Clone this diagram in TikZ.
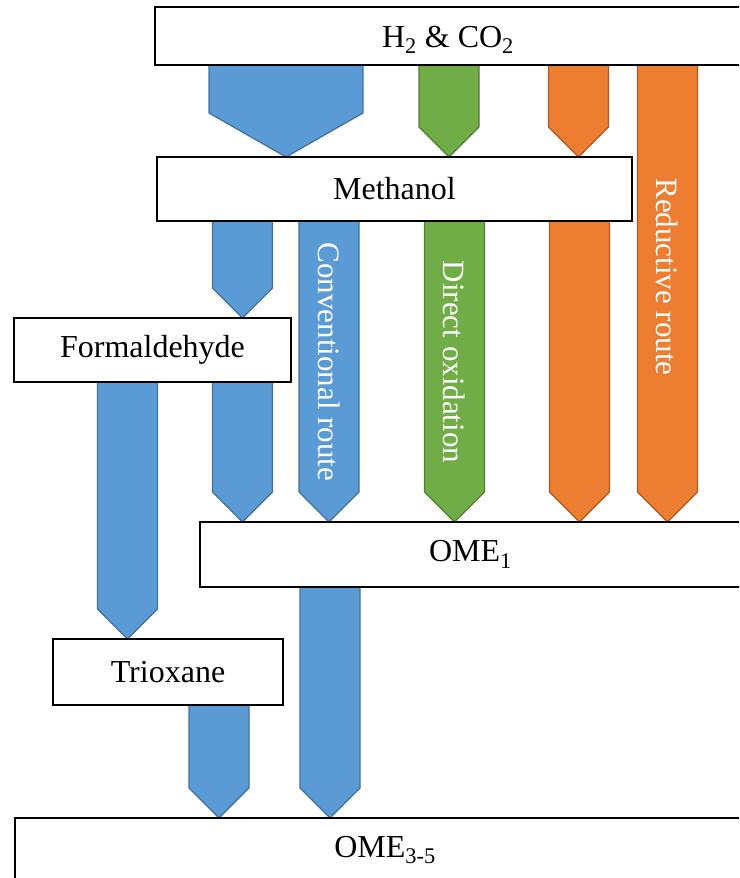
\documentclass[tikz,border=0pt]{standalone}
\usepackage{fontspec}
\setmainfont{Liberation Serif}
\usetikzlibrary{calc, backgrounds}
\definecolor{routeBlue}{HTML}{5B9BD5}
\definecolor{routeBlueDark}{HTML}{41719C}
\definecolor{routeGreen}{HTML}{70AD47}
\definecolor{routeGreenDark}{HTML}{507E32}
\definecolor{routeOrange}{HTML}{ED7D31}
\definecolor{routeOrangeDark}{HTML}{AE5A21}

% block arrow: style, centre x, half width, head depth, from node, to node
\newcommand{\routearrow}[6]{%
  \draw[#1] let \p1=(#5.south), \p2=(#6.north) in
    (#2pt-#3pt,\y1) -- (#2pt+#3pt,\y1) -- (#2pt+#3pt,\y2+#4pt)
    -- (#2pt,\y2) -- (#2pt-#3pt,\y2+#4pt) -- cycle;}

\begin{document}
\begin{tikzpicture}[x=1pt, y=-1pt,
    stage/.style={rectangle, draw=black, line width=2pt, fill=white,
                  inner sep=0pt, outer sep=0pt, font=\fontsize{32}{38}\selectfont},
    blueflow/.style={fill=routeBlue, draw=routeBlueDark, line width=1.2pt},
    greenflow/.style={fill=routeGreen, draw=routeGreenDark, line width=1.2pt},
    orangeflow/.style={fill=routeOrange, draw=routeOrangeDark, line width=1.2pt},
    routelabel/.style={rotate=-90, text=white, inner sep=0pt,
                       font=\fontsize{31}{37}\selectfont},
  ]
    \useasboundingbox (0,0) rectangle (739,878);
    \clip (0,0) rectangle (739,878);

    % Stoffe
    \node[stage, minimum width=586pt, minimum height=58pt,
          text height=28pt, text depth=6pt] (feed) at (448,36)
      {H\textsubscript{2} \& CO\textsubscript{2}};
    \node[stage, minimum width=475pt, minimum height=64pt] (methanol) at (394.5,189) {Methanol};
    \node[stage, minimum width=277pt, minimum height=64pt] (formaldehyde) at (152.5,350) {Formaldehyde};
    \node[stage, minimum width=541pt, minimum height=65pt] (ome1) at (470.5,554.5) {OME\textsubscript{1}};
    \node[stage, minimum width=230pt, minimum height=66pt] (trioxane) at (168,672) {Trioxane};
    \node[stage, minimum width=740pt, minimum height=64pt] (ome35) at (385,850) {OME\textsubscript{3-5}};

    \begin{scope}[on background layer]
      % Methanolsynthese
      \routearrow{blueflow}{286}{77}{44}{feed}{methanol}
      \routearrow{greenflow}{449}{30}{30}{feed}{methanol}
      \routearrow{orangeflow}{578.5}{30}{30}{feed}{methanol}
      \routearrow{orangeflow}{667.5}{30}{30}{feed}{ome1}

      % konventionelle Route
      \routearrow{blueflow}{242.5}{30}{30}{methanol}{formaldehyde}
      \routearrow{blueflow}{329}{30}{30}{methanol}{ome1}
      \routearrow{blueflow}{242.5}{30}{30}{formaldehyde}{ome1}
      \routearrow{blueflow}{127.5}{30}{30}{formaldehyde}{trioxane}
      \routearrow{blueflow}{330}{30}{30}{ome1}{ome35}
      \routearrow{blueflow}{219}{30}{30}{trioxane}{ome35}

      % Direktoxidation und reduktive Route
      \routearrow{greenflow}{454.5}{30}{30}{methanol}{ome1}
      \routearrow{orangeflow}{579.5}{30}{30}{methanol}{ome1}
    \end{scope}

    % Beschriftungen
    \node[routelabel] (conventional) at (329,362) {Conventional route};
    \node[routelabel] (direct) at (454.5,362) {Direct oxidation};
    \node[routelabel] (reductive) at (667.5,277) {Reductive route};
  \end{tikzpicture}
\end{document}
